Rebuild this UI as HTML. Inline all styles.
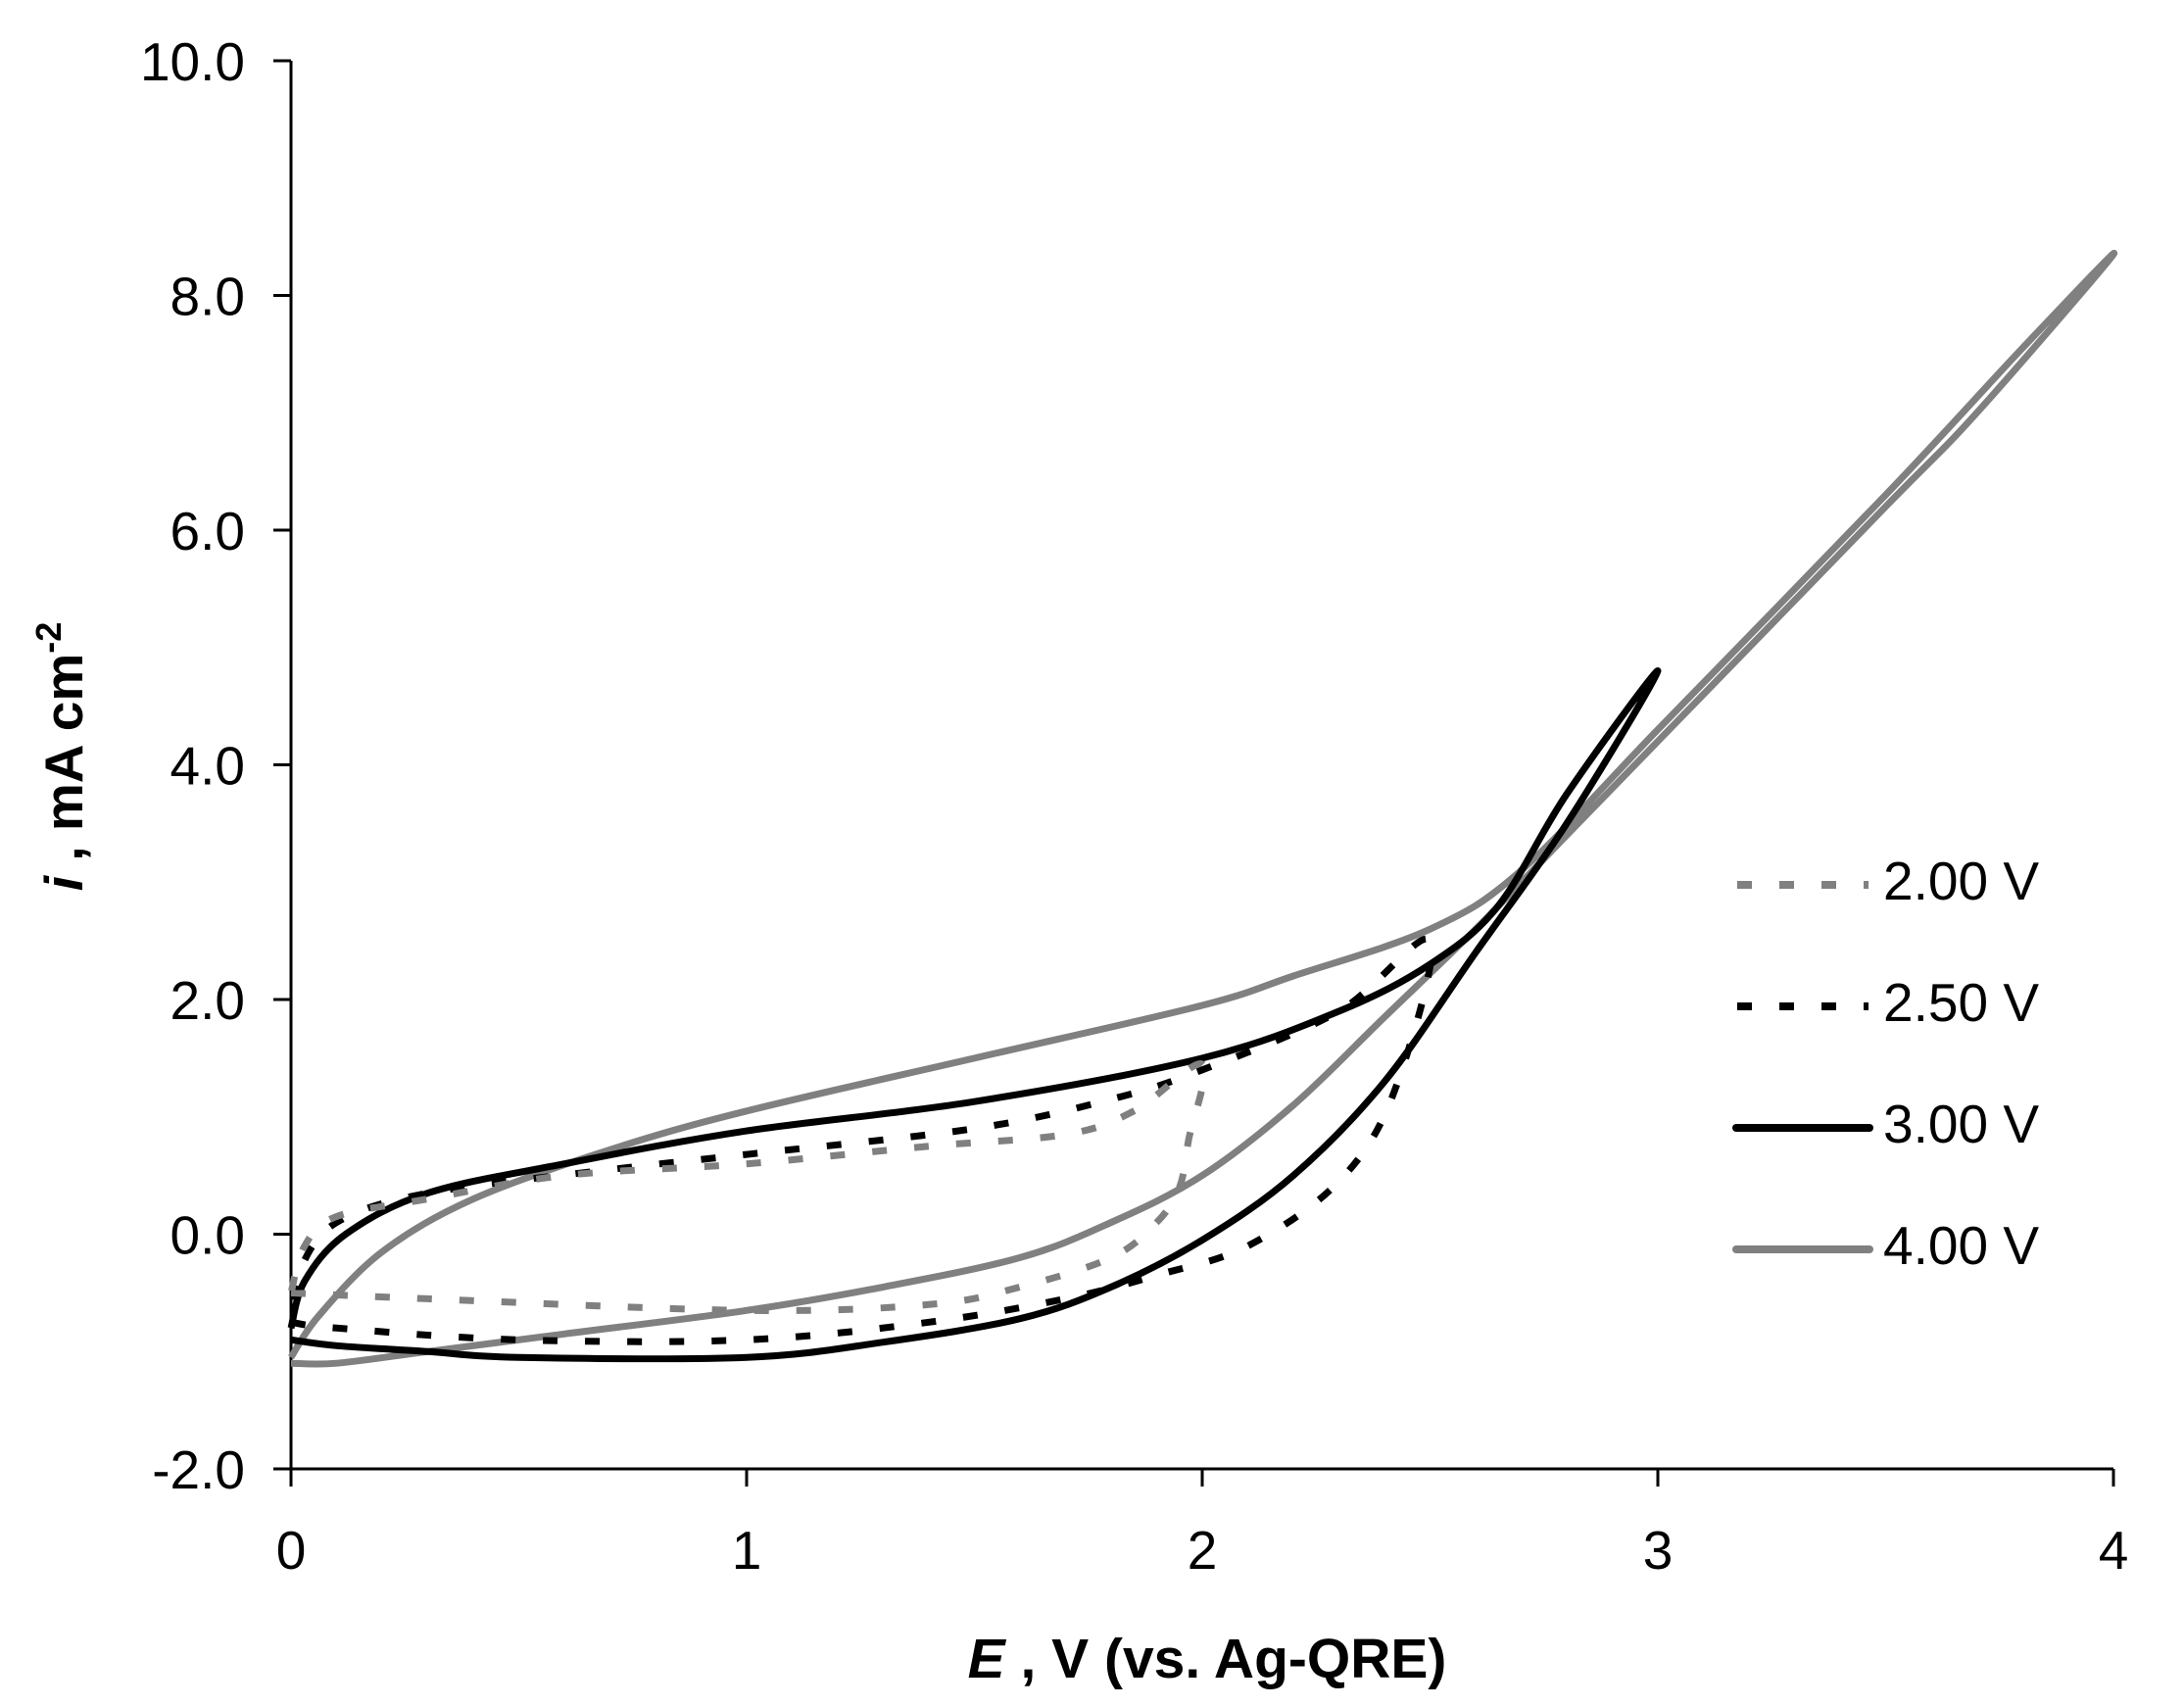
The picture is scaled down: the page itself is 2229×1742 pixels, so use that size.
<!DOCTYPE html>
<html><head><meta charset="utf-8"><style>
html,body{margin:0;padding:0;background:#fff;}
svg{display:block;}
text{font-family:"Liberation Sans",Arial,sans-serif;}
</style></head><body>
<svg id="s" width="2229" height="1742" viewBox="0 0 2229 1742" xmlns="http://www.w3.org/2000/svg">
<rect width="2229" height="1742" fill="#fff"/>
<g stroke="#000" stroke-width="3" fill="none">
<line x1="297" y1="62" x2="297" y2="1499"/>
<line x1="279" y1="1499" x2="2157" y2="1499"/>
<line x1="279" y1="62" x2="297" y2="62"/>
<line x1="279" y1="301.5" x2="297" y2="301.5"/>
<line x1="279" y1="541" x2="297" y2="541"/>
<line x1="279" y1="780.5" x2="297" y2="780.5"/>
<line x1="279" y1="1020" x2="297" y2="1020"/>
<line x1="279" y1="1259.5" x2="297" y2="1259.5"/>
<line x1="297" y1="1499" x2="297" y2="1517"/>
<line x1="762" y1="1499" x2="762" y2="1517"/>
<line x1="1227" y1="1499" x2="1227" y2="1517"/>
<line x1="1692" y1="1499" x2="1692" y2="1517"/>
<line x1="2157" y1="1499" x2="2157" y2="1517"/>
</g>
<g font-size="55" text-anchor="end" fill="#000">
<text x="250" y="82">10.0</text>
<text x="250" y="321.5">8.0</text>
<text x="250" y="561">6.0</text>
<text x="250" y="800.5">4.0</text>
<text x="250" y="1040">2.0</text>
<text x="250" y="1279.5">0.0</text>
<text x="250" y="1519">-2.0</text>
</g>
<g font-size="55" text-anchor="middle" fill="#000">
<text x="297" y="1601">0</text>
<text x="762" y="1601">1</text>
<text x="1227" y="1601">2</text>
<text x="1692" y="1601">3</text>
<text x="2157" y="1601">4</text>
</g>
<text x="1232" y="1712" font-size="57" font-weight="bold" text-anchor="middle"><tspan font-style="italic">E</tspan> , V (vs. Ag-QRE)</text>
<text transform="translate(84,772) rotate(-90)" font-size="55" font-weight="bold" text-anchor="middle"><tspan font-style="italic">i</tspan> , mA cm<tspan dy="-22" font-size="36">-2</tspan></text>
<g id="curves" fill="none" stroke-linejoin="round" stroke-linecap="butt"></g>
<g stroke-width="8" fill="none">
<line x1="1773" y1="903" x2="1907" y2="903" stroke="#808080" stroke-dasharray="15 28"/>
<line x1="1773" y1="1027" x2="1907" y2="1027" stroke="#000" stroke-dasharray="15 28"/>
<line x1="1772" y1="1151" x2="1908" y2="1151" stroke="#000" stroke-linecap="round"/>
<line x1="1772" y1="1275" x2="1908" y2="1275" stroke="#808080" stroke-linecap="round"/>
</g>
<g font-size="55" fill="#000">
<text x="1922" y="918">2.00 V</text>
<text x="1922" y="1042">2.50 V</text>
<text x="1922" y="1166">3.00 V</text>
<text x="1922" y="1290">4.00 V</text>
</g>
</svg>
<script>
function X(v){return 297+465*v;}
function Y(i){return 62+(10-i)*119.75;}
function path(pts){
 var p=pts.map(function(a){return [X(a[0]),Y(a[1])];});
 var d="M"+p[0][0].toFixed(1)+","+p[0][1].toFixed(1);
 for(var k=0;k<p.length-1;k++){
  var p0=p[k-1]||p[k],p1=p[k],p2=p[k+1],p3=p[k+2]||p2;
  var c1=[p1[0]+(p2[0]-p0[0])/6,p1[1]+(p2[1]-p0[1])/6];
  var c2=[p2[0]-(p3[0]-p1[0])/6,p2[1]-(p3[1]-p1[1])/6];
  d+="C"+c1[0].toFixed(1)+","+c1[1].toFixed(1)+" "+c2[0].toFixed(1)+","+c2[1].toFixed(1)+" "+p2[0].toFixed(1)+","+p2[1].toFixed(1);
 }
 return d;
}
var series=[
 {c:"#808080",dash:"",pts:[[0,-1.1],[0.1,-1.1],[0.3,-1.0],[0.6,-0.85],[1.0,-0.65],[1.3,-0.45],[1.6,-0.2],[1.8,0.1],[2.0,0.5],[2.2,1.1],[2.4,1.85],[2.6,2.6],[2.8,3.4],[3.0,4.2],[3.5,6.2],[3.7,7.0],[4.0,8.35],[3.8,7.55],[3.5,6.3],[3.0,4.3],[2.7,3.1],[2.5,2.6],[2.2,2.2],[2.0,1.95],[1.5,1.5],[1.0,1.05],[0.7,0.72],[0.4,0.3],[0.2,-0.15],[0.06,-0.7],[0,-1.05]]},
 {c:"#000",dash:"",pts:[[0,-0.9],[0.1,-0.95],[0.3,-1.0],[0.5,-1.05],[1.0,-1.05],[1.3,-0.92],[1.6,-0.72],[1.8,-0.45],[2.0,-0.05],[2.2,0.5],[2.4,1.3],[2.6,2.4],[2.8,3.5],[3.0,4.8],[2.8,3.75],[2.65,2.8],[2.5,2.3],[2.3,1.9],[2.0,1.5],[1.5,1.13],[1.0,0.88],[0.6,0.6],[0.3,0.35],[0.12,0.0],[0.03,-0.4],[0,-0.8]]},
 {c:"#000",dash:"15 28",pts:[[0,-0.75],[0.1,-0.8],[0.5,-0.9],[1.0,-0.9],[1.4,-0.75],[1.7,-0.55],[1.9,-0.35],[2.1,-0.1],[2.3,0.45],[2.42,1.2],[2.5,2.5],[2.3,1.9],[2.0,1.4],[1.8,1.15],[1.5,0.9],[1.0,0.68],[0.7,0.55],[0.3,0.35],[0.1,0.1],[0.02,-0.3],[0,-0.7]]},
 {c:"#808080",dash:"15 28",pts:[[0,-0.5],[0.3,-0.55],[1.0,-0.65],[1.4,-0.6],[1.6,-0.45],[1.8,-0.2],[1.9,0.1],[1.95,0.4],[1.97,0.8],[2.0,1.45],[1.85,1.05],[1.7,0.85],[1.4,0.75],[1.0,0.6],[0.6,0.5],[0.3,0.3],[0.1,0.15],[0.03,-0.1],[0,-0.5]]}
];
var g=document.getElementById("curves");
series.forEach(function(s){
 var e=document.createElementNS("http://www.w3.org/2000/svg","path");
 e.setAttribute("d",path(s.pts));
 e.setAttribute("stroke",s.c);
 e.setAttribute("stroke-width","7");
 if(s.dash)e.setAttribute("stroke-dasharray",s.dash);
 g.appendChild(e);
});
</script>
</body></html>
